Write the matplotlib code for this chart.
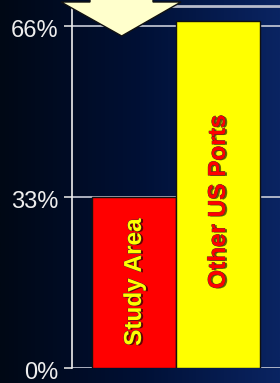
import matplotlib
matplotlib.use("Agg")
import matplotlib.pyplot as plt
import matplotlib.patheffects as pe
import matplotlib.transforms as mtransforms
from matplotlib.patches import Polygon
import numpy as np

# data
categories = ["Study Area", "Other US Ports"]
shares = [33, 67]
bar_colors = ["#ff0000", "#ffff00"]
text_colors = ["#ffff00", "#ff0000"]
label_y = [16.5, 32]
yticks = [0, 33, 66]
ytick_labels = ["0%", "33%", "66%"]

W, H = 280, 383
fig = plt.figure(figsize=(W / 100, H / 100), dpi=100)

# dark navy gradient background
bg = fig.add_axes([0, 0, 1, 1], zorder=-10)
grad = np.linspace(0, 1, 256)[None, :]
cmap = matplotlib.colors.LinearSegmentedColormap.from_list(
    "bg", ["#000815", "#001035", "#0a2462"])
bg.imshow(grad, aspect="auto", cmap=cmap, extent=[0, 1, 0, 1])
bg.axis("off")

ax = fig.add_axes([72 / W, 15.3 / H, 208 / W, 361.7 / H])
ax.patch.set_alpha(0)

x = np.arange(len(categories))
ax.bar(x, shares, width=1.0, color=bar_colors, edgecolor="#111111",
       linewidth=1.0, zorder=3)

for xi, name, ty, tc in zip(x, categories, label_y, text_colors):
    ax.text(xi, ty, name, rotation=90, ha="center", va="center",
            fontsize=17.5, fontweight="bold", family="Liberation Sans",
            color=tc, zorder=5,
            path_effects=[pe.SimplePatchShadow(offset=(1.5, -0.5),
                                               shadow_rgbFace="#000000",
                                               alpha=0.6),
                          pe.withStroke(linewidth=0.5, foreground="#303030")])

ax.set_xlim(-0.742, 1.733)
ax.set_ylim(0, 69.8)
ax.set_yticks(yticks)
ax.set_yticklabels(ytick_labels, family="Liberation Sans", fontsize=17,
                   color="#eeeeee")
ax.set_xticks([])
ax.tick_params(axis="y", direction="out", length=6, width=1.2,
               color="#dddddd", pad=3.5)
shift = mtransforms.ScaledTranslation(0, -2 / 72, fig.dpi_scale_trans)
for lab in ax.get_yticklabels():
    lab.set_transform(lab.get_transform() + shift)
ax.grid(axis="y", color="#c8ccd8", linewidth=1.2, zorder=1)
ax.set_axisbelow(True)

for side in ["right", "bottom"]:
    ax.spines[side].set_visible(False)
ax.spines["left"].set_color("#eeeeee")
ax.spines["left"].set_linewidth(1.2)
ax.spines["top"].set_color("#b8bccc")
ax.spines["top"].set_linewidth(2)

# the downward arrow at the top (pixel geometry of the decoration)
arrow_px = [(90, -10), (153, -10), (153, 2), (181, 2), (121.7, 36),
            (61, 2), (90, 2)]
arrow = Polygon([(px / W, 1 - py / H) for px, py in arrow_px], closed=True,
                transform=fig.transFigure, facecolor="#ffffcc",
                edgecolor="#111111", linewidth=1.0, zorder=20)
fig.patches.append(arrow)

fig.savefig("out.png", dpi=100)
